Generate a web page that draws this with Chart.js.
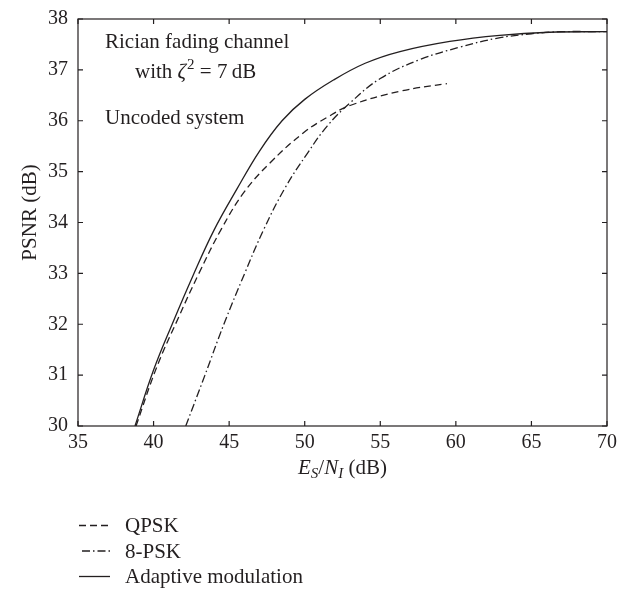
<!DOCTYPE html>
<html lang="en">
<head>
    <meta charset="UTF-8">
    <title>PSNR vs Es/NI - Rician fading channel</title>
    <script src="https://cdn.jsdelivr.net/npm/chart.js"></script>
    <style>
        body {
            margin: 0;
            padding: 0;
            background-color: #ffffff;
        }
        #wrap {
            width: 635px;
            height: 592px;
        }
    </style>
</head>
<body>
    <div id="wrap">
        <canvas id="psnrChart" width="635" height="592"></canvas>
    </div>

    <script>
        // Es/NI (dB) and PSNR (dB) for each scheme
        const qpskEsNi = [38.84, 40.20, 41.60, 43.00, 44.50, 46.00, 47.70, 49.90, 51.50, 53.00, 56.30, 59.41];
        const qpskPsnr = [30.00, 31.15, 32.10, 33.00, 33.88, 34.60, 35.17, 35.76, 36.07, 36.30, 36.58, 36.73];

        const psk8EsNi = [42.13, 43.40, 44.65, 46.00, 47.30, 48.70, 50.20, 51.50, 53.00, 55.00, 57.60, 60.30, 62.70, 65.00, 67.00, 70.00];
        const psk8Psnr = [30.00, 31.00, 32.00, 32.98, 33.87, 34.68, 35.37, 35.90, 36.35, 36.83, 37.20, 37.45, 37.62, 37.71, 37.75, 37.75];

        const adaptEsNi = [38.77, 40.00, 41.30, 42.60, 44.00, 45.50, 47.00, 48.50, 50.00, 51.90, 54.00, 56.30, 59.60, 62.90, 66.20, 70.00];
        const adaptPsnr = [30.00, 31.10, 32.05, 32.95, 33.85, 34.65, 35.40, 36.00, 36.42, 36.80, 37.13, 37.36, 37.56, 37.68, 37.74, 37.75];

        const seriesNames = ['QPSK', '8-PSK', 'Adaptive modulation'];

        const xTicks = [35, 40, 45, 50, 55, 60, 65, 70];
        const yTicks = [30, 31, 32, 33, 34, 35, 36, 37, 38];

        const ink = '#231f20';
        const serif = '"Liberation Serif", "Times New Roman", serif';

        function puntos(xs, ys) {
            return xs.map((x, i) => ({ x: x, y: ys[i] }));
        }

        // marco con marcas hacia dentro, textos y leyenda
        const decoracion = {
            id: 'decoracion',
            afterDraw(chart) {
                const ctx = chart.ctx;
                const a = chart.chartArea;
                const sx = chart.scales.x;
                const sy = chart.scales.y;
                const tl = 5;

                ctx.save();
                ctx.strokeStyle = ink;
                ctx.lineWidth = 1.2;
                ctx.strokeRect(a.left, a.top, a.right - a.left, a.bottom - a.top);

                ctx.beginPath();
                xTicks.forEach(v => {
                    const px = sx.getPixelForValue(v);
                    ctx.moveTo(px, a.bottom);
                    ctx.lineTo(px, a.bottom - tl);
                    ctx.moveTo(px, a.top);
                    ctx.lineTo(px, a.top + tl);
                });
                yTicks.forEach(v => {
                    const py = sy.getPixelForValue(v);
                    ctx.moveTo(a.left, py);
                    ctx.lineTo(a.left + tl, py);
                    ctx.moveTo(a.right, py);
                    ctx.lineTo(a.right - tl, py);
                });
                ctx.stroke();

                ctx.fillStyle = ink;
                ctx.textBaseline = 'alphabetic';
                ctx.textAlign = 'left';

                // anotaciones dentro del área
                ctx.font = '21px ' + serif;
                ctx.fillText('Rician fading channel', 105, 47.5);
                let x = 135;
                ctx.fillText('with ', x, 77.5);
                x += ctx.measureText('with ').width;
                ctx.font = 'italic 21px ' + serif;
                ctx.fillText('\u03b6', x, 77.5);
                x += ctx.measureText('\u03b6').width;
                ctx.font = '15px ' + serif;
                ctx.fillText('2', x + 1, 69);
                x += ctx.measureText('2').width + 1;
                ctx.font = '21px ' + serif;
                ctx.fillText(' = 7\u2009dB', x, 77.5);
                ctx.fillText('Uncoded system', 105, 124);

                // título del eje x: Es/NI (dB)
                const partes = [
                    { t: 'E', f: 'italic 21px ' + serif, dy: 0 },
                    { t: 'S', f: 'italic 15px ' + serif, dy: 4 },
                    { t: '/', f: '21px ' + serif, dy: 0 },
                    { t: 'N', f: 'italic 21px ' + serif, dy: 0 },
                    { t: 'I', f: 'italic 15px ' + serif, dy: 4 },
                    { t: ' (dB)', f: '21px ' + serif, dy: 0 }
                ];
                let total = 0;
                partes.forEach(p => { ctx.font = p.f; total += ctx.measureText(p.t).width; });
                x = (a.left + a.right) / 2 - total / 2;
                partes.forEach(p => {
                    ctx.font = p.f;
                    ctx.fillText(p.t, x, 474 + p.dy);
                    x += ctx.measureText(p.t).width;
                });

                // título del eje y
                ctx.save();
                ctx.translate(36, (a.top + a.bottom) / 2 - 10);
                ctx.rotate(-Math.PI / 2);
                ctx.textAlign = 'center';
                ctx.font = '21px ' + serif;
                ctx.fillText('PSNR (dB)', 0, 0);
                ctx.restore();

                // leyenda
                const filas = [532, 557.5, 583];
                chart.data.datasets.forEach((ds, i) => {
                    const yl = filas[i] - 6.5;
                    ctx.beginPath();
                    ctx.setLineDash(ds.borderDash || []);
                    ctx.lineDashOffset = ds.legendOffset || 0;
                    ctx.lineWidth = ds.borderWidth;
                    ctx.strokeStyle = ds.borderColor;
                    ctx.moveTo(79, yl);
                    ctx.lineTo(110, yl);
                    ctx.stroke();
                    ctx.setLineDash([]);
                    ctx.font = '21px ' + serif;
                    ctx.fillText(ds.label, 125, filas[i]);
                });
                ctx.restore();
            }
        };

        const ctx = document.getElementById('psnrChart').getContext('2d');
        new Chart(ctx, {
            type: 'scatter',
            data: {
                datasets: [
                    {
                        label: seriesNames[0],
                        data: puntos(qpskEsNi, qpskPsnr),
                        borderColor: ink,
                        borderWidth: 1.3,
                        borderDash: [7, 4],
                        legendOffset: 0
                    },
                    {
                        label: seriesNames[1],
                        data: puntos(psk8EsNi, psk8Psnr),
                        borderColor: ink,
                        borderWidth: 1.3,
                        borderDash: [8, 3, 1.5, 3],
                        legendOffset: 12.5
                    },
                    {
                        label: seriesNames[2],
                        data: puntos(adaptEsNi, adaptPsnr),
                        borderColor: ink,
                        borderWidth: 1.3,
                        borderDash: []
                    }
                ]
            },
            options: {
                responsive: false,
                animation: false,
                showLine: true,
                elements: {
                    point: { radius: 0, hoverRadius: 0 },
                    line: { tension: 0.4, fill: false }
                },
                layout: {
                    padding: { top: 9, right: 28, left: 0, bottom: 0 }
                },
                scales: {
                    x: {
                        type: 'linear',
                        min: 35,
                        max: 70,
                        grid: { display: false, drawTicks: false },
                        border: { display: false },
                        afterBuildTicks: s => { s.ticks = xTicks.map(v => ({ value: v })); },
                        afterFit: s => { s.height = 166; },
                        ticks: {
                            color: ink,
                            padding: 8,
                            maxRotation: 0,
                            font: { family: serif, size: 20, lineHeight: 0.9 }
                        }
                    },
                    y: {
                        type: 'linear',
                        min: 30,
                        max: 38,
                        grid: { display: false, drawTicks: false },
                        border: { display: false },
                        afterBuildTicks: s => { s.ticks = yTicks.map(v => ({ value: v })); },
                        afterFit: s => { s.width = 78; },
                        ticks: {
                            color: ink,
                            padding: 10,
                            font: { family: serif, size: 20, lineHeight: 0.9 }
                        }
                    }
                },
                plugins: {
                    legend: { display: false },
                    tooltip: { enabled: false }
                }
            },
            plugins: [decoracion]
        });
    </script>
</body>
</html>
